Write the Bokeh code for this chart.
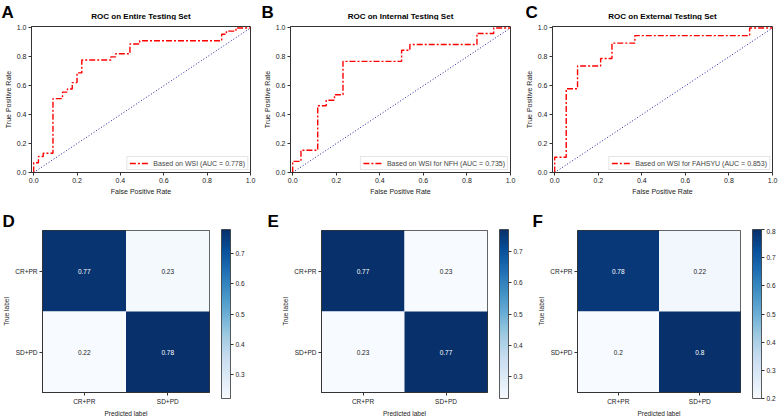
from bokeh.plotting import figure
from bokeh.layouts import row, column
from bokeh.models import (Label, Legend, LegendItem, ColorBar, LinearColorMapper,
                          FixedTicker, ColumnDataSource, NumeralTickFormatter)
from bokeh.core.properties import value
from bokeh.embed import file_html
from bokeh.resources import INLINE

FONT = "Liberation Sans"

# ROC curves (false positive rate / true positive rate)
fpr_a = [0.0, 0.0, 0.022, 0.022, 0.044, 0.044, 0.089, 0.089, 0.133, 0.133, 0.156, 0.156,
         0.178, 0.178, 0.2, 0.2, 0.222, 0.222, 0.356, 0.356, 0.378, 0.378, 0.444, 0.444,
         0.489, 0.489, 0.867, 0.867, 0.889, 0.889, 0.933, 0.933, 1.0]
tpr_a = [0.0, 0.067, 0.067, 0.111, 0.111, 0.133, 0.133, 0.511, 0.511, 0.556, 0.556, 0.578,
         0.578, 0.622, 0.622, 0.689, 0.689, 0.778, 0.778, 0.8, 0.8, 0.822, 0.822, 0.889,
         0.889, 0.911, 0.911, 0.956, 0.956, 0.978, 0.978, 1.0, 1.0]

fpr_b = [0.0, 0.0, 0.038, 0.038, 0.115, 0.115, 0.154, 0.154, 0.192, 0.192, 0.231, 0.231,
         0.5, 0.5, 0.538, 0.538, 0.846, 0.846, 0.923, 0.923, 1.0]
tpr_b = [0.0, 0.077, 0.077, 0.154, 0.154, 0.462, 0.462, 0.5, 0.5, 0.538, 0.538, 0.769,
         0.769, 0.846, 0.846, 0.885, 0.885, 0.962, 0.962, 1.0, 1.0]

fpr_c = [0.0, 0.0, 0.053, 0.053, 0.105, 0.105, 0.211, 0.211, 0.263, 0.263, 0.368, 0.368,
         0.895, 0.895, 1.0]
tpr_c = [0.0, 0.105, 0.105, 0.579, 0.579, 0.737, 0.737, 0.789, 0.789, 0.895, 0.895, 0.947,
         0.947, 1.0, 1.0]

chance = [0.0, 1.0]
roc_ticks = [0.0, 0.2, 0.4, 0.6, 0.8, 1.0]

roc_titles = ["ROC on Entire Testing Set", "ROC on Internal Testing Set",
              "ROC on External Testing Set"]
roc_labels = ["Based on WSI (AUC = 0.778)", "Based on WSI for NFH (AUC = 0.735)",
              "Based on WSI for FAHSYU (AUC = 0.853)"]

# normalised confusion matrices (rows: true label, columns: predicted label)
classes = ["CR+PR", "SD+PD"]
cm_d = [[0.77, 0.23], [0.22, 0.78]]
cm_e = [[0.77, 0.23], [0.23, 0.77]]
cm_f = [[0.78, 0.22], [0.2, 0.8]]
cbar_ticks_de = [0.3, 0.4, 0.5, 0.6, 0.7]
cbar_ticks_f = [0.2, 0.3, 0.4, 0.5, 0.6, 0.7, 0.8]

# "Blues" sequential map, interpolated from its nine anchor colours
_anchors = ["#f7fbff", "#deebf7", "#c6dbef", "#9ecae1", "#6baed6",
            "#4292c6", "#2171b5", "#08519c", "#08306b"]


def _blues(n=256):
    rgb = [tuple(int(h[i:i + 2], 16) for i in (1, 3, 5)) for h in _anchors]
    out = []
    for k in range(n):
        t = k / (n - 1) * (len(rgb) - 1)
        i = min(int(t), len(rgb) - 2)
        f = t - i
        c = [round(rgb[i][m] + (rgb[i + 1][m] - rgb[i][m]) * f) for m in range(3)]
        out.append("#%02x%02x%02x" % tuple(c))
    return out


BLUES = _blues()

# panel geometry: (figure width, left border, right border)
ROC_GEOM = [(260, 31, 10), (258, 30, 8), (260, 34, 6)]
CM_GEOM = [(260, 42, 51), (270, 61, 43), (248, 47, 37)]


def style_axes(p, size):
    for ax in (p.xaxis, p.yaxis):
        ax.major_label_text_font = FONT
        ax.major_label_text_font_size = size
        ax.major_label_text_color = "#222222"
        ax.axis_label_text_font = FONT
        ax.axis_label_text_font_size = size
        ax.axis_label_text_font_style = "normal"
        ax.axis_label_text_color = "#222222"
        ax.major_tick_in = 0
        ax.major_tick_out = 3
        ax.minor_tick_line_color = None
        ax.axis_line_color = "#333333"
        ax.major_tick_line_color = "#333333"
        ax.axis_label_standoff = 2
        ax.major_label_standoff = 2


def header_strip(height):
    h = figure(width=778, height=height, x_range=(0, 1), y_range=(0, 1),
               min_border=0, x_axis_location=None, y_axis_location=None,
               outline_line_color=None, output_backend="svg", toolbar_location=None)
    h.grid.visible = False
    return h


def add_text(p, txt, x, y, size, align="left"):
    p.add_layout(Label(x=x, y=y, x_units="screen", y_units="screen", text=txt,
                       text_font=FONT, text_font_size=size, text_font_style="bold",
                       text_color="black", text_align=align,
                       text_baseline="middle"))


def roc_panel(fpr, tpr, label, geom):
    width, left, right = geom
    p = figure(width=width, height=180, x_range=(-0.01, 1.0), y_range=(0.0, 1.01),
               min_border_left=left, min_border_right=right,
               min_border_top=6, min_border_bottom=28,
               output_backend="svg", toolbar_location=None)
    p.grid.visible = False
    p.outline_line_color = "#333333"
    p.xaxis.ticker = FixedTicker(ticks=roc_ticks)
    p.yaxis.ticker = FixedTicker(ticks=roc_ticks)
    p.xaxis.formatter = NumeralTickFormatter(format="0.0")
    p.yaxis.formatter = NumeralTickFormatter(format="0.0")
    p.xaxis.axis_label = "False Positive Rate"
    p.yaxis.axis_label = "True Positive Rate"
    style_axes(p, "7px")

    p.line(chance, chance, line_color="#2020a0", line_dash="1 2", line_width=1)
    r = p.line(fpr, tpr, line_color="red", line_dash="6 2 2 2", line_width=1.4)

    leg = Legend(items=[LegendItem(label=label, renderers=[r])], location="bottom_right",
                 label_text_font=FONT, label_text_font_size="7px",
                 label_height=8, glyph_height=8, glyph_width=20, label_standoff=4,
                 padding=2, spacing=0, margin=2,
                 border_line_color="#cccccc", border_line_width=0.8,
                 background_fill_alpha=0.85)
    p.add_layout(leg)
    return p


def cm_panel(cm, low, high, ticks, geom):
    width, left, right = geom
    p = figure(width=width, height=191, x_range=classes, y_range=classes[::-1],
               min_border_left=left, min_border_right=right,
               min_border_top=2, min_border_bottom=20,
               output_backend="svg", toolbar_location=None)
    p.grid.visible = False
    p.outline_line_color = "#333333"
    p.xaxis.axis_label = "Predicted label"
    p.yaxis.axis_label = "True label"
    style_axes(p, "6.5px")

    flat = [v for rowv in cm for v in rowv]
    thresh = max(flat) / 2.0
    src = ColumnDataSource(dict(
        pred=[c for _ in classes for c in classes],
        true=[t for t in classes for _ in classes],
        val=flat,
        txt=[f"{v:g}" for v in flat],
        tcol=["white" if v > thresh else "#222222" for v in flat],
    ))
    mapper = LinearColorMapper(palette=BLUES, low=low, high=high)
    p.rect(x="pred", y="true", width=1, height=1, source=src,
           fill_color={"field": "val", "transform": mapper}, line_color=None)
    p.text(x="pred", y="true", text="txt", source=src, text_color="tcol",
           text_align="center", text_baseline="middle",
           text_font=value(FONT), text_font_size="6.5px")

    cb = ColorBar(color_mapper=mapper, ticker=FixedTicker(ticks=ticks),
                  formatter=NumeralTickFormatter(format="0.0"),
                  width=9, height=169, padding=0, margin=0, location=(12, -6),
                  major_tick_in=0, major_tick_out=3,
                  major_tick_line_color="#333333",
                  major_label_text_font=FONT, major_label_text_font_size="6.5px",
                  major_label_text_color="#222222", label_standoff=2,
                  bar_line_color="#333333", bar_line_width=0.8,
                  background_fill_alpha=0)
    p.add_layout(cb, "right")
    return p


# top row: letters and titles, then the three ROC plots
top_head = header_strip(20)
x0 = 0
for letter, title, (w, l, r), (lx, ly) in zip("ABC", roc_titles, ROC_GEOM,
                                                [(1, 8), (1, 8.5), (7, 8.5)]):
    add_text(top_head, letter, x0 + lx, ly, "17px")
    add_text(top_head, title, x0 + l + (w - l - r) / 2, 4, "8px", align="center")
    x0 += w

pa = roc_panel(fpr_a, tpr_a, roc_labels[0], ROC_GEOM[0])
pb = roc_panel(fpr_b, tpr_b, roc_labels[1], ROC_GEOM[1])
pc = roc_panel(fpr_c, tpr_c, roc_labels[2], ROC_GEOM[2])

# bottom row: letters, then the three confusion matrices
bot_head = header_strip(28)
x0 = 0
for letter, (w, l, r), lx in zip("DEF", CM_GEOM, [2, 7, 2]):
    add_text(bot_head, letter, x0 + lx, 7, "17px")
    x0 += w

pd_ = cm_panel(cm_d, 0.22, 0.78, cbar_ticks_de, CM_GEOM[0])
pe = cm_panel(cm_e, 0.23, 0.77, cbar_ticks_de, CM_GEOM[1])
pf = cm_panel(cm_f, 0.2, 0.8, cbar_ticks_f, CM_GEOM[2])

layout = column(top_head, row(pa, pb, pc), bot_head, row(pd_, pe, pf))

open("out.html", "w").write(file_html(layout, INLINE))
